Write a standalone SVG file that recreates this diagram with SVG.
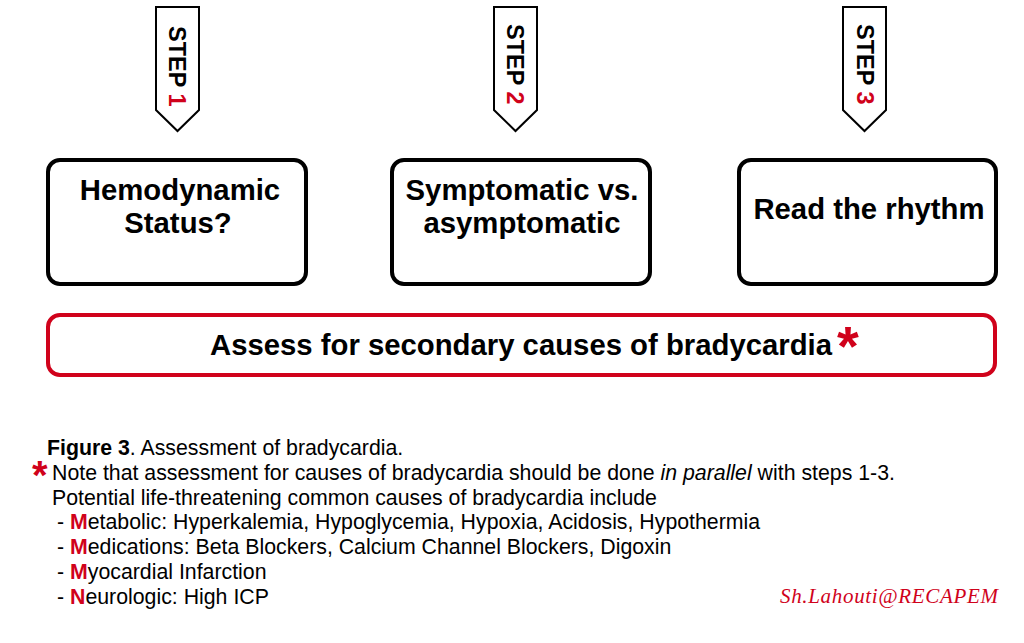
<svg xmlns="http://www.w3.org/2000/svg" width="1024" height="643" viewBox="0 0 1024 643">
<style>
.pen{fill:#fff;stroke:#000;stroke-width:2}
.box{fill:#fff;stroke:#000;stroke-width:4}
.rbox{fill:#fff;stroke:#d0021b;stroke-width:4}
.step{font-family:"Liberation Sans",Arial,sans-serif;font-weight:bold;font-size:23.5px;fill:#000}
.lbl{font-family:"Liberation Sans",Arial,sans-serif;font-weight:bold;font-size:29.3px;fill:#000;text-anchor:middle}
.cap{font-family:"Liberation Sans",Arial,sans-serif;font-size:21.3px;fill:#000}
.b{font-weight:bold}
.sig{font-family:"Liberation Serif","DejaVu Serif",serif;font-style:italic;font-size:21px;fill:#d0021b}
.ast{font-family:"Liberation Sans",Arial,sans-serif;font-weight:bold;fill:#d0021b}
.red{fill:#d0021b}
</style>
<rect width="1024" height="643" fill="#fff"/>
<g id="step1">
<path class="pen" d="M156,7 H199 V110 L177.5,131 L156,110 Z"/>
<text class="step" transform="translate(169,26) rotate(90)">STEP <tspan class="red">1</tspan></text>
</g>
<g id="step2">
<path class="pen" d="M494,7 H537 V110 L515.5,131 L494,110 Z"/>
<text class="step" transform="translate(507,24) rotate(90)">STEP <tspan class="red">2</tspan></text>
</g>
<g id="step3">
<path class="pen" d="M843,7 H886 V110 L864.5,131 L843,110 Z"/>
<text class="step" transform="translate(856.5,24) rotate(90)">STEP <tspan class="red">3</tspan></text>
</g>
<g id="box1">
<rect class="box" x="48" y="160" width="258" height="124" rx="12"/>
<text class="lbl" x="180" y="200">Hemodynamic</text>
<text class="lbl" x="178" y="233">Status?</text>
</g>
<g id="box2">
<rect class="box" x="392" y="160" width="258" height="124" rx="12"/>
<text class="lbl" x="522" y="200">Symptomatic vs.</text>
<text class="lbl" x="522" y="233">asymptomatic</text>
</g>
<g id="box3">
<rect class="box" x="739" y="160" width="257" height="124" rx="12"/>
<text class="lbl" x="869" y="219">Read the rhythm</text>
</g>
<g id="secondary">
<rect class="rbox" x="48" y="315" width="947" height="60" rx="12"/>
<text class="lbl" x="521" y="355">Assess for secondary causes of bradycardia</text>
<text class="ast" x="837" y="365" style="font-size:56px">*</text>
</g>
<g id="connectors"></g>
<g id="caption">
<text class="cap" x="47" y="455"><tspan class="b">Figure 3</tspan>. Assessment of bradycardia.</text>
<text class="ast" x="32" y="489" style="font-size:40px">*</text>
<text class="cap" x="52" y="480">Note that assessment for causes of bradycardia should be done <tspan font-style="italic">in parallel</tspan> with steps 1-3.</text>
<text class="cap" x="52" y="505">Potential life-threatening common causes of bradycardia include</text>
<text class="cap" x="57" y="529">- <tspan class="red b">M</tspan>etabolic: Hyperkalemia, Hypoglycemia, Hypoxia, Acidosis, Hypothermia</text>
<text class="cap" x="57" y="554">- <tspan class="red b">M</tspan>edications: Beta Blockers, Calcium Channel Blockers, Digoxin</text>
<text class="cap" x="57" y="579">- <tspan class="red b">M</tspan>yocardial Infarction</text>
<text class="cap" x="57" y="604">- <tspan class="red b">N</tspan>eurologic: High ICP</text>
</g>
<text class="sig" x="780" y="603" textLength="218" lengthAdjust="spacing">Sh.Lahouti@RECAPEM</text>
</svg>
